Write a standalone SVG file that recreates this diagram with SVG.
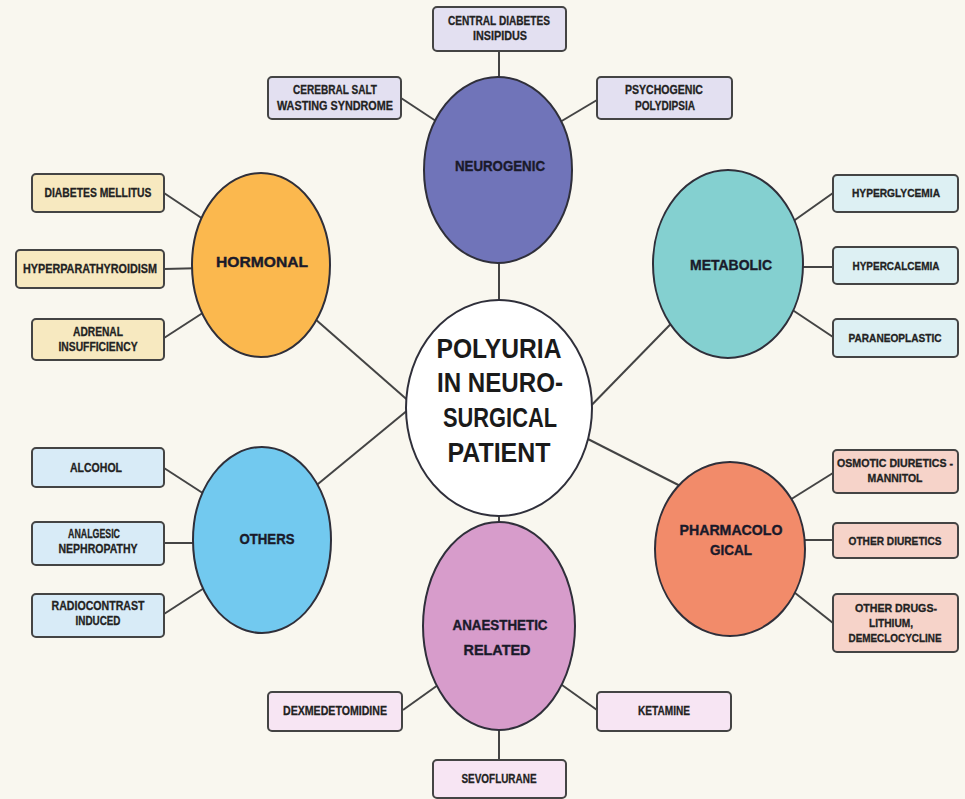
<svg xmlns="http://www.w3.org/2000/svg" width="965" height="799" viewBox="0 0 965 799">
<style>
.bg{fill:#f9f7ef}
.ln{stroke:#444;stroke-width:2;fill:none}
.el{stroke:#2f2f3a;stroke-width:2}
.bx{stroke:#444;stroke-width:2}
.t{font-family:"Liberation Sans","DejaVu Sans",sans-serif;font-weight:bold;font-size:13px;fill:#222;stroke:#222;stroke-width:0.3;text-anchor:middle}
.r{font-size:11.5px}
.h{font-family:"Liberation Sans","DejaVu Sans",sans-serif;font-weight:bold;font-size:15.5px;fill:#1a1a2a;stroke:#1a1a2a;stroke-width:0.4;text-anchor:middle}
.c{font-family:"Liberation Sans","DejaVu Sans",sans-serif;font-weight:bold;font-size:27px;fill:#1a1a1a;text-anchor:middle}
.neu{fill:#7074b9}.neub{fill:#e3e0f1}
.hor{fill:#fbb84e}.horb{fill:#f7e9c0}
.met{fill:#84d0d0}.metb{fill:#ddf0f3}
.oth{fill:#72c9ef}.othb{fill:#d8ebf7}
.pha{fill:#f28b6a}.phab{fill:#f6d3c9}
.ana{fill:#d79ccb}.anab{fill:#f7e5f3}
</style>
<rect class="bg" x="0" y="0" width="965" height="799"/>
<g id="connectors">
<line class="ln" x1="499" y1="51" x2="499" y2="90"/>
<line class="ln" x1="401" y1="98" x2="445" y2="127"/>
<line class="ln" x1="597" y1="100" x2="555" y2="125"/>
<line class="ln" x1="499" y1="250" x2="499" y2="320"/>
<line class="ln" x1="164" y1="193" x2="215" y2="227"/>
<line class="ln" x1="164" y1="269" x2="205" y2="268"/>
<line class="ln" x1="164" y1="338" x2="215" y2="305"/>
<line class="ln" x1="290" y1="297" x2="420" y2="411"/>
<line class="ln" x1="164" y1="468" x2="215" y2="501"/>
<line class="ln" x1="164" y1="543" x2="205" y2="543"/>
<line class="ln" x1="164" y1="614" x2="215" y2="581"/>
<line class="ln" x1="290" y1="507" x2="420" y2="400"/>
<line class="ln" x1="833" y1="193" x2="785" y2="227"/>
<line class="ln" x1="833" y1="267" x2="790" y2="267"/>
<line class="ln" x1="833" y1="337" x2="785" y2="305"/>
<line class="ln" x1="700" y1="294" x2="580" y2="417"/>
<line class="ln" x1="833" y1="473" x2="785" y2="503"/>
<line class="ln" x1="833" y1="540" x2="790" y2="540"/>
<line class="ln" x1="833" y1="623" x2="785" y2="585"/>
<line class="ln" x1="700" y1="496" x2="580" y2="435"/>
<line class="ln" x1="499" y1="500" x2="499" y2="540"/>
<line class="ln" x1="403" y1="710" x2="445" y2="680"/>
<line class="ln" x1="597" y1="710" x2="555" y2="680"/>
<line class="ln" x1="499" y1="715" x2="499" y2="760"/>
</g>
<g id="center">
<ellipse class="el" cx="499" cy="408" rx="93" ry="108" fill="#ffffff"/>
<text class="c" x="499" y="358" textLength="125" lengthAdjust="spacingAndGlyphs">POLYURIA</text>
<text class="c" x="500" y="392" textLength="126" lengthAdjust="spacingAndGlyphs">IN NEURO-</text>
<text class="c" x="500" y="427" textLength="114" lengthAdjust="spacingAndGlyphs">SURGICAL</text>
<text class="c" x="499" y="462" textLength="103" lengthAdjust="spacingAndGlyphs">PATIENT</text>
</g>
<g id="neurogenic">
<ellipse class="el neu" cx="498" cy="170" rx="74" ry="93"/>
<text class="h" x="500" y="171" textLength="90" lengthAdjust="spacingAndGlyphs">NEUROGENIC</text>
</g>
<g id="central-di">
<rect class="bx neub" x="433" y="7" width="133" height="44" rx="4"/>
<text class="t" x="499" y="25" textLength="102" lengthAdjust="spacingAndGlyphs">CENTRAL DIABETES</text>
<text class="t" x="500" y="40" textLength="54" lengthAdjust="spacingAndGlyphs">INSIPIDUS</text>
</g>
<g id="cerebral-salt">
<rect class="bx neub" x="268" y="77" width="133" height="42" rx="4"/>
<text class="t" x="335" y="94" textLength="84" lengthAdjust="spacingAndGlyphs">CEREBRAL SALT</text>
<text class="t" x="335" y="110" textLength="116" lengthAdjust="spacingAndGlyphs">WASTING SYNDROME</text>
</g>
<g id="psychogenic">
<rect class="bx neub" x="597" y="77" width="135" height="42" rx="4"/>
<text class="t" x="664" y="94" textLength="78" lengthAdjust="spacingAndGlyphs">PSYCHOGENIC</text>
<text class="t" x="665" y="110" textLength="60" lengthAdjust="spacingAndGlyphs">POLYDIPSIA</text>
</g>
<g id="hormonal">
<ellipse class="el hor" cx="261" cy="265" rx="69" ry="92"/>
<text class="h" x="262" y="267" textLength="92" lengthAdjust="spacingAndGlyphs">HORMONAL</text>
</g>
<g id="diabetes-mellitus">
<rect class="bx horb" x="32" y="174" width="132" height="38" rx="4"/>
<text class="t" x="98" y="197" textLength="107" lengthAdjust="spacingAndGlyphs">DIABETES MELLITUS</text>
</g>
<g id="hyperparathyroidism">
<rect class="bx horb" x="16" y="250" width="148" height="38" rx="4"/>
<text class="t" x="90" y="273" textLength="134" lengthAdjust="spacingAndGlyphs">HYPERPARATHYROIDISM</text>
</g>
<g id="adrenal">
<rect class="bx horb" x="32" y="319" width="132" height="41" rx="4"/>
<text class="t" x="98" y="336" textLength="50" lengthAdjust="spacingAndGlyphs">ADRENAL</text>
<text class="t" x="98" y="351" textLength="79" lengthAdjust="spacingAndGlyphs">INSUFFICIENCY</text>
</g>
<g id="metabolic">
<ellipse class="el met" cx="728" cy="264" rx="75" ry="94"/>
<text class="h" x="731" y="270" textLength="82" lengthAdjust="spacingAndGlyphs">METABOLIC</text>
</g>
<g id="hyperglycemia">
<rect class="bx metb" x="833" y="175" width="125" height="37" rx="4"/>
<text class="t r" x="896" y="197" textLength="88" lengthAdjust="spacingAndGlyphs">HYPERGLYCEMIA</text>
</g>
<g id="hypercalcemia">
<rect class="bx metb" x="833" y="247" width="125" height="37" rx="4"/>
<text class="t r" x="896" y="270" textLength="87" lengthAdjust="spacingAndGlyphs">HYPERCALCEMIA</text>
</g>
<g id="paraneoplastic">
<rect class="bx metb" x="833" y="319" width="125" height="38" rx="4"/>
<text class="t r" x="895" y="342" textLength="93" lengthAdjust="spacingAndGlyphs">PARANEOPLASTIC</text>
</g>
<g id="others">
<ellipse class="el oth" cx="262" cy="540" rx="69" ry="93"/>
<text class="h" x="267" y="544" textLength="55" lengthAdjust="spacingAndGlyphs">OTHERS</text>
</g>
<g id="alcohol">
<rect class="bx othb" x="32" y="448" width="132" height="39" rx="4"/>
<text class="t" x="96" y="472" textLength="52" lengthAdjust="spacingAndGlyphs">ALCOHOL</text>
</g>
<g id="analgesic">
<rect class="bx othb" x="32" y="522" width="132" height="43" rx="4"/>
<text class="t" x="94" y="538" textLength="52" lengthAdjust="spacingAndGlyphs">ANALGESIC</text>
<text class="t" x="98" y="553" textLength="79" lengthAdjust="spacingAndGlyphs">NEPHROPATHY</text>
</g>
<g id="radiocontrast">
<rect class="bx othb" x="32" y="594" width="132" height="43" rx="4"/>
<text class="t" x="98" y="610" textLength="93" lengthAdjust="spacingAndGlyphs">RADIOCONTRAST</text>
<text class="t" x="98" y="625" textLength="45" lengthAdjust="spacingAndGlyphs">INDUCED</text>
</g>
<g id="pharmacological">
<ellipse class="el pha" cx="730" cy="549" rx="75" ry="87"/>
<text class="h" x="731" y="535" textLength="103" lengthAdjust="spacingAndGlyphs">PHARMACOLO</text>
<text class="h" x="731" y="555" textLength="42" lengthAdjust="spacingAndGlyphs">GICAL</text>
</g>
<g id="osmotic">
<rect class="bx phab" x="833" y="450" width="125" height="43" rx="4"/>
<text class="t r" x="895" y="467" textLength="116" lengthAdjust="spacingAndGlyphs" style="font-size:10.5px">OSMOTIC DIURETICS -</text>
<text class="t r" x="895" y="482" textLength="55" lengthAdjust="spacingAndGlyphs">MANNITOL</text>
</g>
<g id="other-diuretics">
<rect class="bx phab" x="833" y="523" width="125" height="35" rx="4"/>
<text class="t r" x="895" y="545" textLength="93" lengthAdjust="spacingAndGlyphs">OTHER DIURETICS</text>
</g>
<g id="other-drugs">
<rect class="bx phab" x="833" y="594" width="125" height="58" rx="4"/>
<text class="t r" x="896" y="612" textLength="82" lengthAdjust="spacingAndGlyphs">OTHER DRUGS-</text>
<text class="t r" x="891" y="627" textLength="44" lengthAdjust="spacingAndGlyphs">LITHIUM,</text>
<text class="t r" x="895" y="642" textLength="93" lengthAdjust="spacingAndGlyphs">DEMECLOCYCLINE</text>
</g>
<g id="anaesthetic">
<ellipse class="el ana" cx="499" cy="626" rx="76" ry="104"/>
<text class="h" x="500" y="630" textLength="95" lengthAdjust="spacingAndGlyphs">ANAESTHETIC</text>
<text class="h" x="497" y="655" textLength="67" lengthAdjust="spacingAndGlyphs">RELATED</text>
</g>
<g id="dexmedetomidine">
<rect class="bx anab" x="268" y="692" width="134" height="39" rx="4"/>
<text class="t" x="335" y="715" textLength="104" lengthAdjust="spacingAndGlyphs">DEXMEDETOMIDINE</text>
</g>
<g id="ketamine">
<rect class="bx anab" x="597" y="692" width="134" height="39" rx="4"/>
<text class="t" x="664" y="715" textLength="52" lengthAdjust="spacingAndGlyphs">KETAMINE</text>
</g>
<g id="sevoflurane">
<rect class="bx anab" x="433" y="760" width="133" height="38" rx="4"/>
<text class="t" x="499" y="783" textLength="75" lengthAdjust="spacingAndGlyphs">SEVOFLURANE</text>
</g>
</svg>
